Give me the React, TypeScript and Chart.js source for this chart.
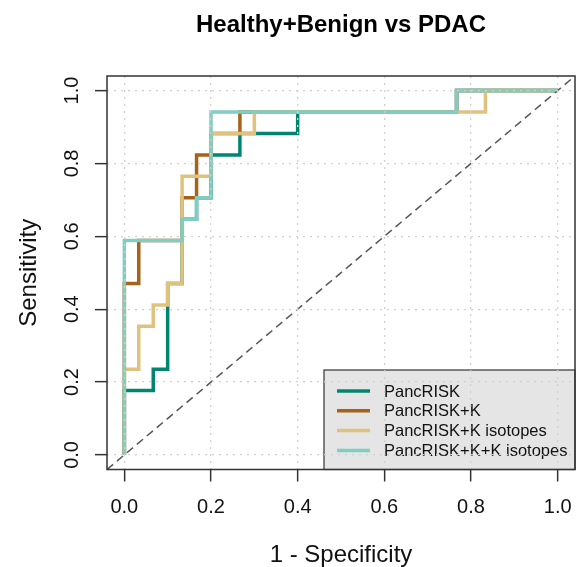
import React, { useEffect, useRef } from "react";
import { Chart, registerables } from "chart.js";

Chart.register(...registerables);

const chartTitle = "Healthy+Benign vs PDAC";
const xAxisTitle = "1 - Specificity";
const yAxisTitle = "Sensitivity";

const seriesNames = ["PancRISK", "PancRISK+K", "PancRISK+K isotopes", "PancRISK+K+K isotopes"];
const seriesColors = ["#018571", "#a6611a", "#dfc27d", "#80cdc1"];

// ROC coordinates (1 - specificity, sensitivity)
const fprPancRISK = [0, 0, 0.0667, 0.0667, 0.1, 0.1, 0.1333, 0.1333, 0.1667, 0.1667, 0.2, 0.2, 0.2667, 0.2667, 0.4, 0.4, 0.7667, 0.7667, 1];
const tprPancRISK = [0, 0.1765, 0.1765, 0.2353, 0.2353, 0.4706, 0.4706, 0.6471, 0.6471, 0.7059, 0.7059, 0.8235, 0.8235, 0.8824, 0.8824, 0.9412, 0.9412, 1, 1];

const fprPancRISKK = [0, 0, 0.0333, 0.0333, 0.1333, 0.1333, 0.1667, 0.1667, 0.2, 0.2, 0.2667, 0.2667, 0.7667, 0.7667, 1];
const tprPancRISKK = [0, 0.4706, 0.4706, 0.5882, 0.5882, 0.7059, 0.7059, 0.8235, 0.8235, 0.8824, 0.8824, 0.9412, 0.9412, 1, 1];

const fprIsotopes = [0, 0, 0.0333, 0.0333, 0.0667, 0.0667, 0.1, 0.1, 0.1333, 0.1333, 0.2, 0.2, 0.3, 0.3, 0.8333, 0.8333, 1];
const tprIsotopes = [0, 0.2353, 0.2353, 0.3529, 0.3529, 0.4118, 0.4118, 0.4706, 0.4706, 0.7647, 0.7647, 0.8824, 0.8824, 0.9412, 0.9412, 1, 1];

const fprKKIsotopes = [0, 0, 0.1333, 0.1333, 0.1667, 0.1667, 0.2, 0.2, 0.7667, 0.7667, 1];
const tprKKIsotopes = [0, 0.5882, 0.5882, 0.6471, 0.6471, 0.7059, 0.7059, 0.9412, 0.9412, 1, 1];

const axisTicks = [0, 0.2, 0.4, 0.6, 0.8, 1.0];
const axisMin = -0.04;
const axisMax = 1.04;
const diagonalLine = [axisMin, axisMax];

const FONT = '"Liberation Sans", Arial, Helvetica, sans-serif';

const seriesFpr = [fprPancRISK, fprPancRISKK, fprIsotopes, fprKKIsotopes];
const seriesTpr = [tprPancRISK, tprPancRISKK, tprIsotopes, tprKKIsotopes];

const W = 576;
const H = 567;

const decorPlugin = {
  id: "decor",
  afterDatasetsDraw(chart: any) {
    const { ctx, chartArea } = chart;
    // legend (bottom-right inside plot)
    const right = chartArea.right;
    const bottom = chartArea.bottom;
    const left = right - 251;
    const top = bottom - 99.5;
    ctx.save();
    ctx.fillStyle = "#e5e5e5";
    ctx.fillRect(left, top, right - left, bottom - top);
    ctx.strokeStyle = "#333";
    ctx.lineWidth = 1.2;
    ctx.strokeRect(left, top, right - left, bottom - top);
    ctx.font = `16.5px ${FONT}`;
    ctx.textBaseline = "middle";
    ctx.textAlign = "left";
    seriesNames.forEach((name, i) => {
      const y = top + 21 + i * 19.8;
      ctx.strokeStyle = seriesColors[i];
      ctx.lineWidth = 3.5;
      ctx.beginPath();
      ctx.moveTo(left + 13, y);
      ctx.lineTo(left + 46, y);
      ctx.stroke();
      ctx.fillStyle = "#111";
      ctx.fillText(name, left + 60, y + 1);
    });
    ctx.restore();
  },
  afterDraw(chart: any) {
    const { ctx, chartArea } = chart;
    ctx.save();
    // plot box
    ctx.strokeStyle = "#333";
    ctx.lineWidth = 1.5;
    ctx.strokeRect(chartArea.left, chartArea.top, chartArea.right - chartArea.left, chartArea.bottom - chartArea.top);
    // main title centred over plot
    ctx.fillStyle = "#000";
    ctx.font = `bold 24px ${FONT}`;
    ctx.textAlign = "center";
    ctx.textBaseline = "alphabetic";
    ctx.fillText(chartTitle, (chartArea.left + chartArea.right) / 2, 32);
    ctx.restore();
  },
};

function makeScale(isX: boolean) {
  return {
    type: "linear",
    min: axisMin,
    max: axisMax,
    afterBuildTicks: (s: any) => {
      s.ticks = axisTicks.map((v) => ({ value: v }));
    },
    afterFit: (s: any) => {
      if (isX) {
        s.height = H - 469.5;
        s.paddingLeft = 0;
        s.paddingRight = 0;
      } else {
        s.width = 107;
        s.paddingTop = 0;
        s.paddingBottom = 0;
      }
    },
    ticks: {
      callback: (v: any) => Number(v).toFixed(1),
      font: { size: 20, family: FONT },
      color: "#111",
      padding: isX ? 14 : 9,
      minRotation: isX ? 0 : 90,
      maxRotation: isX ? 0 : 90,
      crossAlign: isX ? "near" : "center",
    },
    grid: {
      z: 1,
      color: "#d0d0d0",
      lineWidth: 1.3,
      borderDash: [2, 5],
      drawTicks: true,
      tickLength: 12,
      tickColor: "#333",
      tickWidth: 1.5,
      tickBorderDash: [],
    },
    border: { display: false, dash: [2, 5] },
    title: {
      display: true,
      text: isX ? xAxisTitle : yAxisTitle,
      color: "#111",
      font: { size: 24, family: FONT, lineHeight: 1 },
      padding: isX ? { top: 0, bottom: 0 } : { top: 17, bottom: 0 },
    },
  };
}

export default function App() {
  const ref = useRef<HTMLCanvasElement | null>(null);
  useEffect(() => {
    if (!ref.current) return;
    const datasets: any[] = seriesNames.map((name, i) => ({
      label: name,
      data: seriesFpr[i].map((x, j) => ({ x, y: seriesTpr[i][j] })),
      borderColor: seriesColors[i],
      backgroundColor: seriesColors[i],
      borderWidth: 3.5,
      pointRadius: 0,
      fill: false,
      tension: 0,
      borderJoinStyle: "miter",
      borderCapStyle: "butt",
      order: 4 - i + 1,
    }));
    datasets.push({
      label: "diagonal",
      data: diagonalLine.map((v) => ({ x: v, y: v })),
      borderColor: "#555",
      borderWidth: 1.5,
      borderDash: [8, 5],
      pointRadius: 0,
      fill: false,
      order: 0,
    });
    const chart = new Chart(ref.current, {
      type: "line",
      data: { datasets },
      options: {
        animation: false,
        responsive: false,
        devicePixelRatio: 1,
        layout: { padding: { top: 76, right: 1, left: 0, bottom: 0 } },
        plugins: {
          legend: { display: false },
          title: { display: false },
          tooltip: { enabled: false },
        },
        scales: { x: makeScale(true), y: makeScale(false) } as any,
      },
      plugins: [decorPlugin],
    } as any);
    return () => chart.destroy();
  }, []);
  return (
    <div style={{ position: "absolute", left: 0, top: 0, width: W, height: H, background: "#fff" }}>
      <canvas ref={ref} width={W} height={H} style={{ width: W, height: H, display: "block" }} />
    </div>
  );
}
